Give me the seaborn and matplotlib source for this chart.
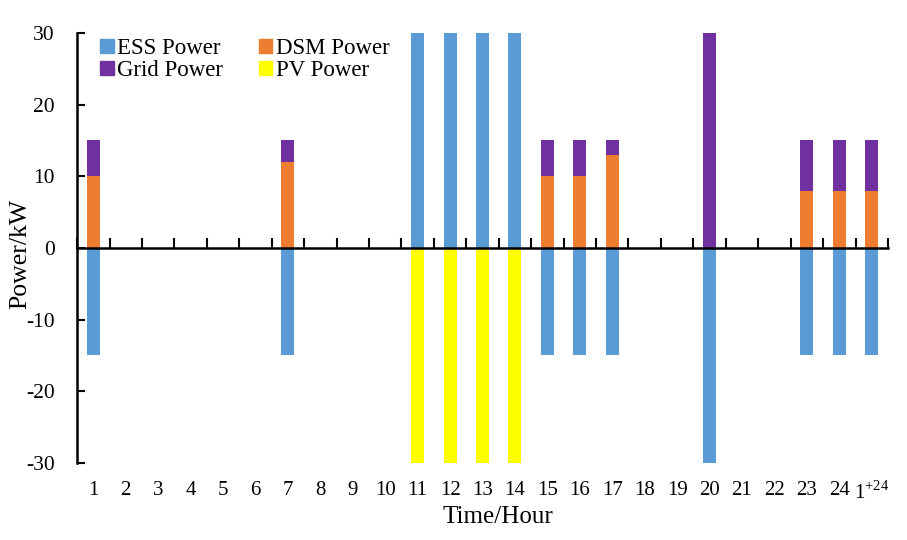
import matplotlib
matplotlib.use('Agg')
from matplotlib import pyplot as plt
from matplotlib.patches import Patch
import numpy as np
import pandas as pd
import seaborn as sn

# ----- datos -----
hours = [str(h) for h in range(1, 25)] + ['1$^{+24}$']
ess_power = [-15, 0, 0, 0, 0, 0, -15, 0, 0, 0, 30, 30, 30, 30, -15, -15, -15, 0, 0, -30, 0, 0, -15, -15, -15]
dsm_power = [10, 0, 0, 0, 0, 0, 12, 0, 0, 0, 0, 0, 0, 0, 10, 10, 13, 0, 0, 0, 0, 0, 8, 8, 8]
grid_power = [5, 0, 0, 0, 0, 0, 3, 0, 0, 0, 0, 0, 0, 0, 5, 5, 2, 0, 0, 30, 0, 0, 7, 7, 7]
pv_power = [0, 0, 0, 0, 0, 0, 0, 0, 0, 0, -30, -30, -30, -30, 0, 0, 0, 0, 0, 0, 0, 0, 0, 0, 0]

c_ess = '#5B9BD5'
c_dsm = '#ED7D31'
c_grid = '#7030A0'
c_pv = '#FFFF00'

plt.rcParams['font.family'] = ['Liberation Serif', 'DejaVu Serif']
plt.rcParams['mathtext.fontset'] = 'custom'
plt.rcParams['mathtext.rm'] = 'Liberation Serif'
plt.rcParams['axes.unicode_minus'] = False
plt.rcParams['font.size'] = 17

df = pd.DataFrame({'hour': hours, 'ess': ess_power, 'dsm': dsm_power,
                   'grid': grid_power, 'pv': pv_power})
# apilado: DSM abajo, Grid encima
df['grid_top'] = df['dsm'] + df['grid']

fig = plt.figure(figsize=(9.07, 5.40), dpi=100)
ax = fig.add_axes([0.085, 0.1426, 0.894, 0.7963])

bw = 0.4
sn.barplot(data=df, x='hour', y='grid_top', color=c_grid, width=bw, saturation=1, ax=ax, order=hours)
sn.barplot(data=df, x='hour', y='dsm', color=c_dsm, width=bw, saturation=1, ax=ax, order=hours)
sn.barplot(data=df, x='hour', y='ess', color=c_ess, width=bw, saturation=1, ax=ax, order=hours)
sn.barplot(data=df, x='hour', y='pv', color=c_pv, width=bw, saturation=1, ax=ax, order=hours)

ax.set_xlim(-0.5, len(hours) - 0.5)
ax.set_ylim(-30, 30)
ax.set_yticks([-30, -20, -10, 0, 10, 20, 30])

# eje x en cero con marcas hacia arriba
ax.spines['top'].set_visible(False)
ax.spines['right'].set_visible(False)
ax.spines['bottom'].set_position(('data', 0))
ax.spines['bottom'].set_linewidth(1.8)
ax.spines['left'].set_linewidth(1.8)
ax.set_xticks(np.arange(-0.5, len(hours), 1.0))
ax.tick_params(axis='x', direction='in', length=7, width=1.5, labelbottom=False)
ax.tick_params(axis='y', direction='in', length=6, width=1.5, pad=16, labelsize=15.5)

sec = ax.secondary_xaxis(0.0)
sec.set_xticks(np.arange(len(hours)), labels=hours)
sec.spines['bottom'].set_visible(False)
sec.tick_params(axis='x', length=0, pad=13, labelsize=15)

ax.set_xlabel('Time/Hour', fontsize=18)
ax.xaxis.set_label_coords(0.519, -0.1)
ax.set_ylabel('Power/kW', fontsize=18.5)
ax.yaxis.set_label_coords(-0.057, 0.486)

handles = [Patch(color=c_ess, label='ESS Power'), Patch(color=c_grid, label='Grid Power'),
           Patch(color=c_dsm, label='DSM Power'), Patch(color=c_pv, label='PV Power')]
ax.legend(handles=handles, ncol=2, loc='upper left', bbox_to_anchor=(0.028, 0.988),
          frameon=False, borderpad=0, borderaxespad=0, handlelength=0.6, handleheight=0.6,
          handletextpad=0.15, columnspacing=1.55, labelspacing=0.05, fontsize=16.5)

plt.savefig('out.png', dpi=100)
